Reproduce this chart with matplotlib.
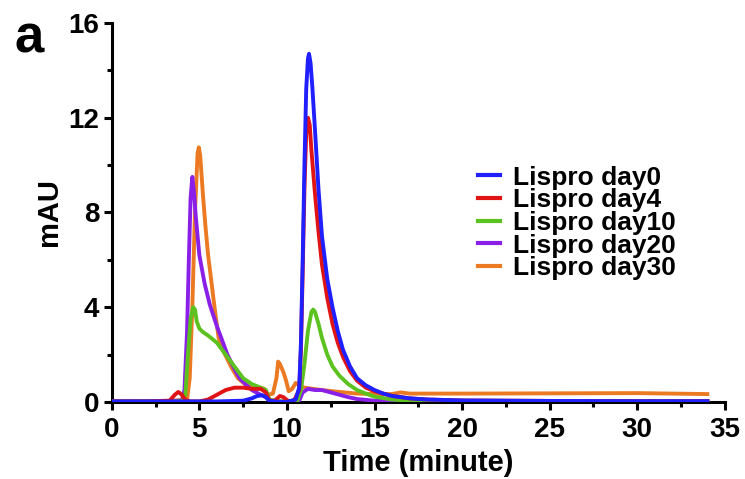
import matplotlib
matplotlib.use('Agg')
import matplotlib.pyplot as plt
from matplotlib.ticker import MultipleLocator

plt.rcParams['font.family'] = ['Liberation Sans', 'DejaVu Sans']
plt.rcParams['font.weight'] = 'bold'

# chromatogram traces (time in minutes, mAU)
t_day0 = [0, 2, 4, 6, 7.5, 8.0, 8.3, 8.6, 8.8, 9.0, 9.5, 10.0, 10.5, 10.7, 10.8, 10.9,
          11.0, 11.1, 11.2, 11.26, 11.35, 11.45, 11.6, 11.8, 12.0, 12.3, 12.6, 12.9,
          13.2, 13.6, 14.0, 14.5, 15.0, 15.5, 16.0, 17.0, 18.0, 20.0, 25.0, 30.0, 34.0]
v_day0 = [0.02, 0.02, 0.02, 0.02, 0.05, 0.15, 0.25, 0.28, 0.2, 0.05, 0.0, 0.0, 0.1, 0.6,
          2.5, 6.0, 10.0, 13.2, 14.5, 14.7, 14.3, 13.3, 11.5, 9.0, 7.0, 5.2, 4.0, 3.0,
          2.2, 1.5, 1.0, 0.7, 0.5, 0.35, 0.25, 0.15, 0.1, 0.06, 0.04, 0.03, 0.03]

t_day4 = [0, 2, 3.3, 3.6, 3.8, 4.0, 4.2, 4.5, 5.0, 5.5, 6.0, 6.5, 7.0, 7.5, 8.0, 8.5,
          8.8, 9.0, 9.3, 9.6, 9.8, 10.1, 10.4, 10.7, 10.8, 10.9, 11.0, 11.1, 11.2, 11.3,
          11.4, 11.6, 11.8, 12.0, 12.3, 12.6, 12.9, 13.2, 13.6, 14.0, 14.5, 15.0, 16.0,
          17.0, 18.0, 20.0, 25.0, 30.0, 34.0]
v_day4 = [0.02, 0.02, 0.05, 0.3, 0.42, 0.3, 0.08, 0.02, 0.02, 0.1, 0.3, 0.5, 0.6, 0.6,
          0.55, 0.55, 0.4, 0.05, 0.05, 0.25, 0.2, 0.02, 0.05, 0.5, 2.2, 5.5, 9.0, 11.3,
          12.0, 11.7, 10.6, 8.8, 7.2, 5.8, 4.4, 3.3, 2.5, 1.9, 1.3, 0.9, 0.6, 0.45, 0.25,
          0.15, 0.1, 0.06, 0.04, 0.03, 0.03]

t_day10 = [0, 2, 4.0, 4.2, 4.35, 4.5, 4.65, 4.75, 4.85, 5.0, 5.2, 5.5, 6.0, 6.5, 7.0,
           7.5, 8.0, 8.5, 8.8, 9.0, 9.5, 10.0, 10.6, 10.8, 11.0, 11.2, 11.4, 11.5, 11.6,
           11.8, 12.0, 12.3, 12.6, 13.0, 13.5, 14.0, 14.5, 15.0, 16.0, 17.0, 20.0, 34.0]
v_day10 = [0.02, 0.02, 0.02, 0.3, 2.0, 3.5, 4.0, 3.9, 3.4, 3.1, 2.95, 2.8, 2.5, 2.0, 1.5,
           1.0, 0.75, 0.6, 0.5, 0.1, 0.02, 0.02, 0.05, 0.5, 1.6, 3.0, 3.8, 3.9, 3.8,
           3.3, 2.7, 2.0, 1.5, 1.1, 0.75, 0.5, 0.35, 0.22, 0.1, 0.05, 0.03, 0.03]

t_day20 = [0, 2, 4.0, 4.15, 4.3, 4.4, 4.5, 4.6, 4.7, 4.8, 5.0, 5.3, 5.6, 6.0, 6.3, 6.6,
           7.0, 7.3, 7.7, 8.0, 8.5, 8.8, 9.0, 9.5, 10.0, 10.7, 10.9, 11.2, 11.6, 12.0,
           12.5, 13.0, 13.5, 14.0, 15.0, 16.0, 20.0, 34.0]
v_day20 = [0.02, 0.02, 0.05, 0.5, 3.0, 6.0, 8.6, 9.5, 8.8, 7.8, 6.2, 5.0, 4.1, 3.2, 2.6,
           2.0, 1.4, 1.0, 0.7, 0.5, 0.3, 0.2, 0.05, 0.02, 0.02, 0.05, 0.4, 0.55, 0.5,
           0.5, 0.4, 0.3, 0.2, 0.12, 0.05, 0.03, 0.02, 0.02]

t_day30 = [0, 2, 3.5, 4.3, 4.45, 4.6, 4.75, 4.9, 4.97, 5.05, 5.2, 5.35, 5.5, 5.7, 5.9,
           6.1, 6.4, 6.8, 7.2, 7.6, 8.0, 8.3, 8.5, 8.7, 8.9, 9.2, 9.4, 9.5, 9.6, 9.8,
           9.95, 10.1, 10.3, 10.5, 10.7, 11.0, 11.5, 12.0, 13.0, 14.0, 15.0, 16.0, 16.5,
           17.0, 20.0, 25.0, 30.0, 34.0]
v_day30 = [0.02, 0.03, 0.05, 0.1, 1.0, 4.0, 8.0, 10.5, 10.75, 10.4, 8.8, 7.4, 6.2, 5.0,
           3.8, 2.7, 2.1, 1.5, 1.0, 0.75, 0.6, 0.55, 0.6, 0.55, 0.3, 0.35, 1.0, 1.7, 1.6,
           1.25, 0.9, 0.45, 0.55, 0.8, 0.7, 0.6, 0.55, 0.5, 0.42, 0.35, 0.33, 0.33, 0.4,
           0.35, 0.35, 0.36, 0.37, 0.33]

labels = ['Lispro day0', 'Lispro day4', 'Lispro day10', 'Lispro day20', 'Lispro day30']
colors = ['#1f1fff', '#e01414', '#5cc21f', '#8a20e8', '#eb7a22']
zorders = [6, 5, 4, 3, 2]
traces = [(t_day0, v_day0), (t_day4, v_day4), (t_day10, v_day10),
          (t_day20, v_day20), (t_day30, v_day30)]

fig = plt.figure(figsize=(7.45, 4.79), dpi=100)
ax = fig.add_axes([0.150, 0.161, 0.823, 0.791])

for (t, v), lab, c, z in zip(traces, labels, colors, zorders):
    ax.plot(t, v, color=c, lw=2.8, label=lab, zorder=z, solid_joinstyle='round')

ax.set_xlim(0, 35)
ax.set_ylim(0, 16)
ax.xaxis.set_major_locator(MultipleLocator(5))
ax.xaxis.set_minor_locator(MultipleLocator(2.5))
ax.yaxis.set_major_locator(MultipleLocator(4))
ax.yaxis.set_minor_locator(MultipleLocator(2))

for side in ['top', 'right']:
    ax.spines[side].set_visible(False)
for side in ['left', 'bottom']:
    ax.spines[side].set_linewidth(2.2)

ax.tick_params(which='major', length=6, width=2.2, labelsize=20, pad=3)
ax.tick_params(axis='x', which='major', pad=5)
ax.tick_params(which='minor', length=3.5, width=2.2)
for lbl in ax.get_xticklabels() + ax.get_yticklabels():
    lbl.set_fontweight('bold')

ax.set_xlabel('Time (minute)', fontsize=21, fontweight='bold', labelpad=4)
ax.set_ylabel('mAU', fontsize=21, fontweight='bold', labelpad=4)

leg = ax.legend(loc='center left', bbox_to_anchor=(0.597, 0.472), frameon=False,
                fontsize=19, handlelength=0.85, handletextpad=0.5,
                labelspacing=-0.05, borderpad=0, borderaxespad=0)
for line in leg.get_lines():
    line.set_linewidth(3)

fig.text(0.02, 0.92, 'a', fontsize=38, fontweight='bold', va='center', ha='left')

fig.savefig('out.png', dpi=100)
